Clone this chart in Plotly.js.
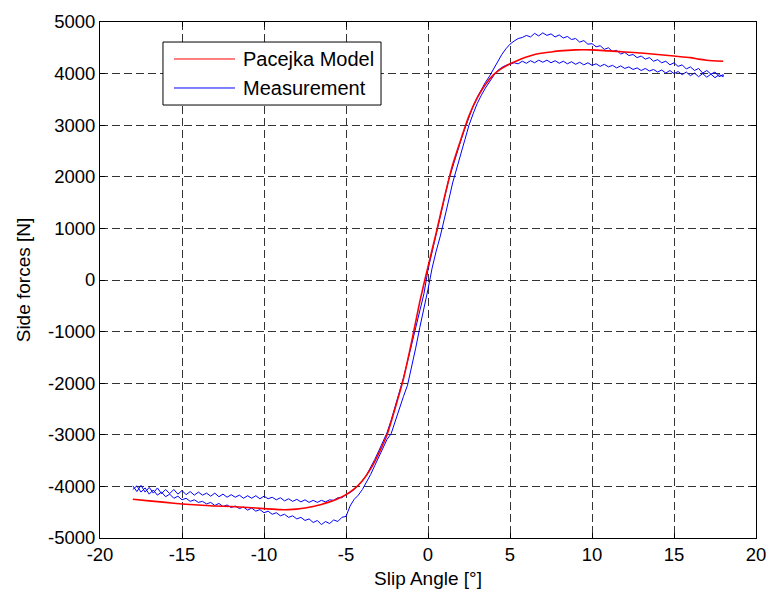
<!DOCTYPE html>
<html>
<head>
<meta charset="utf-8">
<script src="https://cdn.plot.ly/plotly-3.0.1.min.js"></script>
<style>html,body{margin:0;padding:0;background:#fff;}#chart{width:769px;height:590px;}</style>
</head>
<body>
<div id="chart"></div>
<script>
// Pacejka model (red)
const modelX = [-18,-17,-16,-15,-14,-13,-12,-11,-10,-9,-8.5,-8,-7.5,-7,-6.5,-6,-5.5,-5,-4.5,-4,-3.5,-3,-2.5,-2,-1.5,-1,-0.5,0,0.5,1,1.5,2,2.5,3,3.5,4,4.5,5,5.5,6,6.5,7,7.5,8,9,10,11,12,13,14,15,16,16.5,17,18];
const modelY = [-4250,-4280,-4310,-4340,-4360,-4380,-4390,-4410,-4430,-4450,-4450,-4440,-4420,-4390,-4350,-4300,-4240,-4160,-4050,-3890,-3660,-3360,-3000,-2480,-1920,-1200,-420,260,910,1600,2230,2720,3180,3530,3790,3980,4100,4190,4260,4320,4370,4400,4420,4440,4460,4460,4440,4420,4400,4370,4340,4310,4280,4260,4240];

// Measurement, branch A (x increasing)
const measAX = [-18,-17.75,-17.5,-17.25,-17,-16.75,-16.5,-16.25,-16,-15.75,-15.5,-15.25,-15,-14.75,-14.5,-14.25,-14,-13.75,-13.5,-13.25,-13,-12.75,-12.5,-12.25,-12,-11.75,-11.5,-11.25,-11,-10.75,-10.5,-10.25,-10,-9.75,-9.5,-9.25,-9,-8.75,-8.5,-8.25,-8,-7.75,-7.5,-7.25,-7,-6.75,-6.5,-6.25,-6,-5.75,-5.5,-5.25,-5,-4.75,-4.5,-4.25,-4,-3.75,-3.5,-3.25,-3,-2.75,-2.5,-2.25,-2,-1.75,-1.5,-1.25,-1,-0.75,-0.5,-0.25,0,0.25,0.5,0.75,1,1.25,1.5,1.75,2,2.25,2.5,2.75,3,3.25,3.5,3.75,4,4.25,4.5,4.75,5,5.25,5.5,5.75,6,6.25,6.5,6.75,7,7.25,7.5,7.75,8,8.25,8.5,8.75,9,9.25,9.5,9.75,10,10.25,10.5,10.75,11,11.25,11.5,11.75,12,12.25,12.5,12.75,13,13.25,13.5,13.75,14,14.25,14.5,14.75,15,15.25,15.5,15.75,16,16.25,16.5,16.75,17,17.25,17.5,17.75,18];
const measAY = [-3990,-4100,-3980,-4110,-4020,-4130,-4030,-4140,-4060,-4140,-4060,-4150,-4080,-4160,-4100,-4170,-4110,-4170,-4130,-4190,-4130,-4200,-4150,-4210,-4160,-4210,-4170,-4230,-4180,-4230,-4180,-4240,-4190,-4240,-4210,-4260,-4220,-4280,-4240,-4290,-4250,-4300,-4260,-4310,-4270,-4310,-4270,-4300,-4260,-4270,-4220,-4220,-4160,-4120,-4060,-3980,-3890,-3780,-3640,-3480,-3310,-3140,-2960,-2720,-2450,-2180,-1900,-1580,-1250,-930,-600,-270,200,560,890,1230,1580,1930,2200,2450,2700,2940,3160,3370,3540,3690,3830,3950,4100,4240,4370,4480,4570,4630,4680,4700,4740,4710,4780,4730,4790,4740,4770,4710,4750,4690,4720,4660,4680,4610,4640,4570,4580,4520,4540,4470,4500,4430,4450,4380,4410,4350,4370,4310,4340,4280,4310,4240,4270,4210,4240,4170,4210,4140,4170,4090,4130,4060,4100,4010,4060,3990,4030,3940,3980];

// Measurement, branch B (listed by increasing x, traversed back)
const measBX = [-18,-17.75,-17.5,-17.25,-17,-16.75,-16.5,-16.25,-16,-15.75,-15.5,-15.25,-15,-14.75,-14.5,-14.25,-14,-13.75,-13.5,-13.25,-13,-12.75,-12.5,-12.25,-12,-11.75,-11.5,-11.25,-11,-10.75,-10.5,-10.25,-10,-9.75,-9.5,-9.25,-9,-8.75,-8.5,-8.25,-8,-7.75,-7.5,-7.25,-7,-6.75,-6.5,-6.25,-6,-5.75,-5.5,-5.25,-5,-4.75,-4.5,-4.25,-4,-3.75,-3.5,-3.25,-3,-2.75,-2.5,-2.25,-2,-1.75,-1.5,-1.25,-1,-0.75,-0.5,-0.25,0,0.25,0.5,0.75,1,1.25,1.5,1.75,2,2.25,2.5,2.75,3,3.25,3.5,3.75,4,4.25,4.5,4.75,5,5.25,5.5,5.75,6,6.25,6.5,6.75,7,7.25,7.5,7.75,8,8.25,8.5,8.75,9,9.25,9.5,9.75,10,10.25,10.5,10.75,11,11.25,11.5,11.75,12,12.25,12.5,12.75,13,13.25,13.5,13.75,14,14.25,14.5,14.75,15,15.25,15.5,15.75,16,16.25,16.5,16.75,17,17.25,17.5,17.75,18];
const measBY = [-4060,-3990,-4110,-4030,-4150,-4070,-4170,-4110,-4200,-4150,-4230,-4190,-4260,-4230,-4290,-4260,-4310,-4290,-4340,-4310,-4370,-4330,-4390,-4360,-4410,-4380,-4430,-4400,-4460,-4420,-4480,-4450,-4510,-4480,-4540,-4510,-4570,-4540,-4600,-4570,-4630,-4600,-4660,-4630,-4700,-4660,-4740,-4680,-4720,-4650,-4680,-4600,-4580,-4380,-4250,-4170,-4060,-3920,-3770,-3600,-3420,-3250,-3090,-2980,-2750,-2500,-2260,-2040,-1700,-1320,-920,-520,-180,230,560,850,1180,1530,1880,2180,2440,2720,3000,3220,3420,3580,3720,3850,3960,4060,4120,4160,4180,4210,4190,4240,4200,4250,4210,4260,4220,4260,4210,4250,4200,4240,4190,4230,4180,4220,4170,4210,4160,4190,4140,4180,4130,4160,4110,4150,4100,4130,4080,4110,4060,4100,4050,4080,4030,4070,4010,4060,4000,4040,3980,4030,3960,4010,3940,4000,3930,3990,3920,3980,3940];

const xTickVals = [-20,-15,-10,-5,0,5,10,15,20];
const xTickText = ['-20','-15','-10','-5','0','5','10','15','20'];
const yTickVals = [-5000,-4000,-3000,-2000,-1000,0,1000,2000,3000,4000,5000];
const yTickText = ['-5000','-4000','-3000','-2000','-1000','0','1000','2000','3000','4000','5000'];

const seriesNames = ['Pacejka Model','Measurement'];
const seriesColors = ['#ff0000','#0000ff'];

const measX = measAX.concat(measBX.slice().reverse());
const measY = measAY.concat(measBY.slice().reverse());

const FONT = 'Arial, "Liberation Sans", Helvetica, sans-serif';

const traces = [
  {x: measX, y: measY, type: 'scatter', mode: 'lines', name: seriesNames[1],
   line: {color: seriesColors[1], width: 1}, showlegend: false},
  {x: modelX, y: modelY, type: 'scatter', mode: 'lines', name: seriesNames[0],
   line: {color: seriesColors[0], width: 1.6, shape: 'spline', smoothing: 0.6}, showlegend: false}
];

const axisCommon = {
  showline: true, linecolor: '#000', linewidth: 1, mirror: 'allticks',
  ticks: 'inside', ticklen: 5, tickcolor: '#000', tickwidth: 1,
  showgrid: true, gridcolor: '#333', gridwidth: 1, griddash: '8px,4px',
  zeroline: false, tickfont: {family: FONT, size: 18.5, color: '#000'}
};

// legend (drawn box)
const lgX0 = 0.096, lgX1 = 0.4284, lgY0 = 0.8391, lgY1 = 0.9612;
const lgLineX0 = 0.1128, lgLineX1 = 0.2058, lgTextX = 0.2149;
const lgRowY = [0.9283, 0.8721];

const layout = {
  width: 769, height: 590,
  margin: {l: 100, r: 13, t: 22, b: 52},
  paper_bgcolor: '#fff', plot_bgcolor: '#fff',
  font: {family: FONT, size: 18, color: '#000'},
  xaxis: Object.assign({}, axisCommon, {
    range: [-20, 20], tickvals: xTickVals, ticktext: xTickText,
    title: {text: 'Slip Angle [°]', font: {family: FONT, size: 19, color: '#000'}, standoff: 7}
  }),
  yaxis: Object.assign({}, axisCommon, {
    range: [-5000, 5000], tickvals: yTickVals, ticktext: yTickText,
    title: {text: 'Side forces [N]', font: {family: FONT, size: 19, color: '#000'}, standoff: 12}
  }),
  shapes: [
    {type: 'rect', xref: 'paper', yref: 'paper', x0: lgX0, x1: lgX1, y0: lgY0, y1: lgY1,
     line: {color: '#000', width: 1}, fillcolor: '#fff', layer: 'above'},
    {type: 'line', xref: 'paper', yref: 'paper', x0: lgLineX0, x1: lgLineX1, y0: lgRowY[0], y1: lgRowY[0],
     line: {color: seriesColors[0], width: 1}, layer: 'above'},
    {type: 'line', xref: 'paper', yref: 'paper', x0: lgLineX0, x1: lgLineX1, y0: lgRowY[1], y1: lgRowY[1],
     line: {color: seriesColors[1], width: 1}, layer: 'above'}
  ],
  annotations: [
    {xref: 'paper', yref: 'paper', x: lgTextX, y: lgRowY[0], xanchor: 'left', yanchor: 'middle',
     text: seriesNames[0], showarrow: false, font: {family: FONT, size: 20, color: '#000'}},
    {xref: 'paper', yref: 'paper', x: lgTextX, y: lgRowY[1], xanchor: 'left', yanchor: 'middle',
     text: seriesNames[1], showarrow: false, font: {family: FONT, size: 20, color: '#000'}}
  ]
};

Plotly.newPlot('chart', traces, layout, {displayModeBar: false, staticPlot: true});
</script>
</body>
</html>
